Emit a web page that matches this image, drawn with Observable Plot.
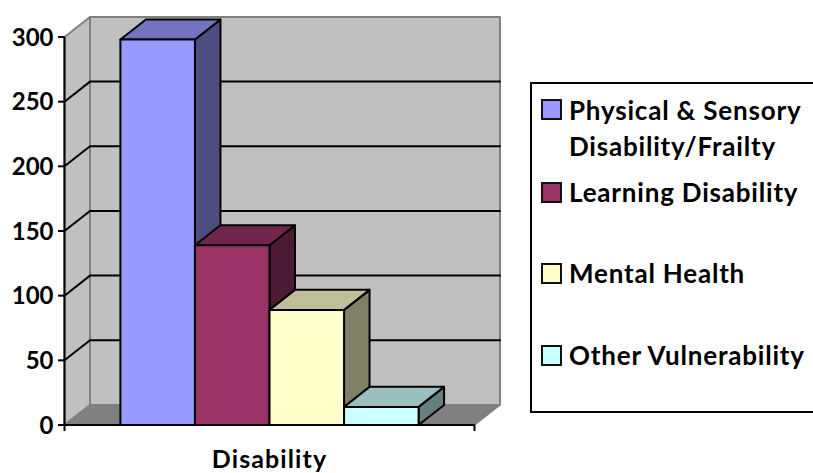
<!DOCTYPE html>
<html>
<head>
<meta charset="utf-8">
<script src="https://cdn.jsdelivr.net/npm/d3@7"></script>
<script src="https://cdn.jsdelivr.net/npm/@observablehq/plot@0.6"></script>
<style>
html,body{margin:0;padding:0;background:#fff;overflow:hidden;width:813px;height:473px}
#root{position:relative;width:813px;height:473px;overflow:hidden;font-family:Lato,sans-serif;font-weight:700;color:#000}
#root svg{display:block}
#root svg .catlabel text{letter-spacing:1.1px}
#legend{position:absolute;left:530px;top:82px;width:300px;height:327px;border:2px solid #000;background:#fff;box-sizing:content-box}
.sw{position:absolute;left:8.5px;width:17px;height:17px;border:2px solid #111}
.lb{position:absolute;left:37px;font-size:26px;letter-spacing:0.8px;line-height:36px;white-space:nowrap}
</style>
</head>
<body>
<div id="root"></div>
<script>
const seriesNames = ["Physical & Sensory Disability/Frailty", "Learning Disability", "Mental Health", "Other Vulnerability"];
const seriesValues = [298, 139, 89, 14];
const frontColors = ["#9999FF", "#993366", "#FFFFCC", "#CCFFFF"];
const topColors = ["#7373BF", "#73264D", "#BFBF99", "#99BFBF"];
const sideColors = ["#4D4D80", "#4D1A33", "#808066", "#668080"];
const yTicks = [0, 50, 100, 150, 200, 250, 300];
const gridTicks = [50, 100, 150, 200, 250];
const categoryLabel = "Disability";

// Category space: each bar is one unit wide, with a 150% gap shared by both sides.
const xMax = 5.5, gap = 0.75;
// Depth of the 3-D box, in x units and in y value units.
const depthX = 0.342, depthY = 15.5;

const poly = (pts, id, fill) => {
  const closed = [...pts, pts[0]];
  return closed.map(([x, y]) => ({x, y, id, fill}));
};

const wallPts = [
  ...poly([[depthX, depthY], [xMax + depthX, depthY], [xMax + depthX, 300 + depthY], [depthX, 300 + depthY]], "back", "#C0C0C0"),
  ...poly([[0, 0], [depthX, depthY], [depthX, 300 + depthY], [0, 300]], "left", "#C0C0C0")
];
const floorPts = poly([[0, 0], [xMax, 0], [xMax + depthX, depthY], [depthX, depthY]], "floor", "#808080");

const gridPts = gridTicks.flatMap(v => [
  {x: 0, y: v, id: v},
  {x: depthX, y: v + depthY, id: v},
  {x: xMax + depthX, y: v + depthY, id: v}
]);

const barPts = seriesValues.flatMap((v, i) => {
  const a = gap + i, b = a + 1;
  return [
    ...poly([[b, 0], [b + depthX, depthY], [b + depthX, v + depthY], [b, v]], `s${i}`, sideColors[i]),
    ...poly([[a, v], [b, v], [b + depthX, v + depthY], [a + depthX, v + depthY]], `t${i}`, topColors[i]),
    ...poly([[a, 0], [b, 0], [b, v], [a, v]], `f${i}`, frontColors[i])
  ];
});

const chart = Plot.plot({
  width: 813,
  height: 473,
  marginLeft: 64,
  marginRight: 0,
  marginTop: 0,
  marginBottom: 0,
  x: {domain: [0, xMax], range: [64, 474], axis: null},
  y: {domain: [0, 300], range: [424.5, 36.5], axis: null},
  color: {type: "identity"},
  style: {fontFamily: "Lato, sans-serif", background: "#fff", color: "#000"},
  marks: [
    Plot.line(wallPts, {x: "x", y: "y", z: "id", fill: "fill", stroke: "#808080", strokeWidth: 2, strokeLinejoin: "miter"}),
    Plot.line(floorPts, {x: "x", y: "y", z: "id", fill: "fill", stroke: "#808080", strokeWidth: 1.5, strokeLinejoin: "miter"}),
    Plot.line(gridPts, {x: "x", y: "y", z: "id", stroke: "#000", strokeWidth: 2, strokeLinejoin: "miter"}),
    Plot.line(barPts, {x: "x", y: "y", z: "id", fill: "fill", stroke: "#000", strokeWidth: 2, strokeLinejoin: "round"}),
    Plot.ruleX([0], {y1: 0, y2: 300, stroke: "#000", strokeWidth: 2}),
    Plot.ruleY([0], {x1: 0, x2: xMax, stroke: "#000", strokeWidth: 2}),
    Plot.axisY({ticks: yTicks, tickSize: 6, strokeWidth: 2, label: null, text: null}),
    Plot.axisY({
      ticks: yTicks, tickSize: 0, tickPadding: 11, dy: 1, label: null,
      fontSize: 24, fontWeight: 700, fontVariant: "normal", tickFormat: d3.format("d")
    }),
    Plot.ruleX([0, xMax], {y1: 0, y2: -5, stroke: "#000", strokeWidth: 2}),
    Plot.text([categoryLabel], {x: xMax / 2, y: 0, dy: 34.5, fontSize: 25, fontWeight: 700, fill: "#000", className: "catlabel"})
  ]
});

const root = document.getElementById("root");
root.appendChild(chart);

// Legend box, outside the plot's scales.
const legend = document.createElement("div");
legend.id = "legend";
const rows = [
  {lines: ["Physical & Sensory", "Disability/Frailty"], top: 8, sw: 15},
  {lines: ["Learning Disability"], top: 90, sw: 98},
  {lines: ["Mental Health"], top: 171, sw: 179},
  {lines: ["Other Vulnerability"], top: 253, sw: 261}
];
rows.forEach((r, i) => {
  const s = document.createElement("div");
  s.className = "sw";
  s.style.top = r.sw + "px";
  s.style.background = frontColors[i];
  legend.appendChild(s);
  r.lines.forEach((t, j) => {
    const l = document.createElement("div");
    l.className = "lb";
    l.style.top = (r.top + j * 36) + "px";
    l.textContent = t;
    legend.appendChild(l);
  });
});
root.appendChild(legend);
</script>
</body>
</html>
